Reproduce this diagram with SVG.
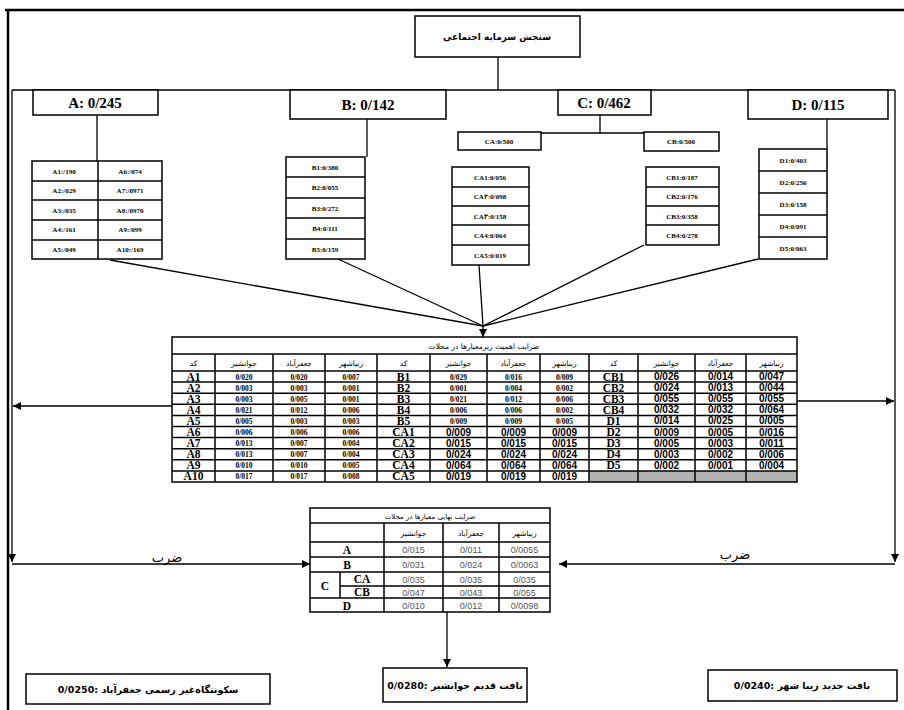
<svg xmlns="http://www.w3.org/2000/svg" width="904" height="710" viewBox="0 0 904 710">
<defs>
<marker id="ah" viewBox="0 0 10 10" refX="10" refY="5" markerWidth="8" markerHeight="8" markerUnits="userSpaceOnUse" orient="auto">
<path d="M0,0 L10,5 L0,10 z" fill="#000"/>
</marker>
<style>
.box{fill:#fff;stroke:#000;stroke-width:1.5}
.ln{stroke:#000;stroke-width:1.3;fill:none}
.tl{stroke:#000;stroke-width:1.5;fill:none}
.big{font-family:"Liberation Serif",serif;font-weight:bold;font-size:15px;text-anchor:middle;fill:#000}
.sm{font-family:"Liberation Serif",serif;font-weight:bold;font-size:7px;text-anchor:middle;fill:#000}
.fa{font-family:"DejaVu Sans",sans-serif;text-anchor:middle;fill:#000}
.code{font-family:"Liberation Serif",serif;font-weight:bold;font-size:11.5px;text-anchor:middle;fill:#000}
.v1{font-family:"Liberation Serif",serif;font-weight:bold;font-size:7.5px;text-anchor:middle;fill:#000}
.v2{font-family:"Liberation Sans",sans-serif;font-weight:bold;font-size:10px;text-anchor:middle;fill:#000}
.v3{font-family:"Liberation Sans",sans-serif;font-size:9px;text-anchor:middle;fill:#555}
</style>
</defs>
<rect width="904" height="710" fill="#fff"/>
<!-- frame -->
<line x1="5" y1="10" x2="904" y2="10" stroke="#000" stroke-width="2.5"/>
<line x1="8" y1="10" x2="8" y2="710" stroke="#000" stroke-width="2.5"/>

<g id="connectors">
<line class="ln" x1="498" y1="57" x2="498" y2="90"/>
<line class="ln" x1="12" y1="90" x2="895" y2="90"/>
<line class="ln" x1="12" y1="90" x2="12" y2="562" marker-end="url(#ah)"/>
<line class="ln" x1="895" y1="90" x2="895" y2="562" marker-end="url(#ah)" stroke="#333" stroke-width="1.8"/>
<line class="ln" x1="97" y1="115" x2="97" y2="161"/>
<line class="ln" x1="367" y1="119" x2="367" y2="157"/>
<line class="ln" x1="600" y1="115" x2="600" y2="133"/>
<line class="ln" x1="541" y1="133" x2="644" y2="133"/>
<line class="ln" x1="827" y1="119" x2="827" y2="149"/>
<line class="ln" x1="110" y1="260" x2="483" y2="326"/>
<line class="ln" x1="338" y1="259" x2="483" y2="326"/>
<line class="ln" x1="479" y1="265" x2="483" y2="326"/>
<line class="ln" x1="644" y1="245" x2="483" y2="326"/>
<line class="ln" x1="758" y1="259" x2="483" y2="326"/>
<line class="ln" x1="483" y1="326" x2="483" y2="337" marker-end="url(#ah)"/>
<line class="ln" x1="172" y1="406" x2="13" y2="406" marker-end="url(#ah)"/>
<line class="ln" x1="797" y1="401" x2="894" y2="401" marker-end="url(#ah)"/>
<line class="ln" x1="12" y1="564" x2="310" y2="564" marker-end="url(#ah)"/>
<line class="ln" x1="895" y1="564" x2="559" y2="564" marker-end="url(#ah)"/>
<line class="ln" x1="447" y1="612" x2="447" y2="667" marker-end="url(#ah)"/>
<text class="fa" x="167" y="562" font-size="13">ضرب</text>
<text class="fa" x="735" y="559" font-size="13">ضرب</text>
</g>

<g id="title">
<rect class="box" x="415" y="16" width="165" height="41"/>
<text class="fa" x="497" y="40" font-size="9" font-weight="bold">سنجش سرمایه اجتماعی</text>
</g>

<g id="A">
<rect class="box" x="33" y="90" width="125" height="25"/>
<text class="big" x="95" y="108">A: 0/245</text>
</g>
<g id="B">
<rect class="box" x="290" y="90" width="156" height="29"/>
<text class="big" x="368" y="110">B: 0/142</text>
</g>
<g id="C">
<rect class="box" x="558" y="90" width="93" height="25"/>
<text class="big" x="604" y="108">C: 0/462</text>
</g>
<g id="D">
<rect class="box" x="748" y="90" width="140" height="29"/>
<text class="big" x="818" y="110">D: 0/115</text>
</g>

<g id="A-items">
<rect class="box" x="32" y="161" width="130" height="98"/>
<line class="tl" x1="98" y1="161" x2="98" y2="259"/>
<line class="tl" x1="32" y1="181" x2="162" y2="181"/>
<line class="tl" x1="32" y1="200" x2="162" y2="200"/>
<line class="tl" x1="32" y1="220" x2="162" y2="220"/>
<line class="tl" x1="32" y1="240" x2="162" y2="240"/>
<text class="sm" x="64" y="173.5">A1:/190</text>
<text class="sm" x="64" y="193">A2:/029</text>
<text class="sm" x="64" y="212.5">A3:/035</text>
<text class="sm" x="64" y="232">A4:/161</text>
<text class="sm" x="64" y="252">A5:/049</text>
<text class="sm" x="130" y="173.5">A6:/074</text>
<text class="sm" x="130" y="193">A7:/0971</text>
<text class="sm" x="130" y="212.5">A8:/0970</text>
<text class="sm" x="130" y="232">A9:/099</text>
<text class="sm" x="130" y="252">A10:/169</text>
</g>

<g id="B-items">
<rect class="box" x="286" y="157" width="79" height="102"/>
<line class="tl" x1="286" y1="177" x2="365" y2="177"/>
<line class="tl" x1="286" y1="198" x2="365" y2="198"/>
<line class="tl" x1="286" y1="218" x2="365" y2="218"/>
<line class="tl" x1="286" y1="239" x2="365" y2="239"/>
<text class="sm" x="325" y="169.5">B1:0/380</text>
<text class="sm" x="325" y="190">B2:0/055</text>
<text class="sm" x="325" y="210.5">B3:0/272</text>
<text class="sm" x="325" y="231">B4:0/111</text>
<text class="sm" x="325" y="251.5">B5:0/159</text>
</g>

<g id="CA">
<rect class="box" x="458" y="132" width="83" height="18"/>
<text class="sm" x="499" y="143.5">CA:0/500</text>
</g>
<g id="CB">
<rect class="box" x="644" y="132" width="75" height="19"/>
<text class="sm" x="681" y="144">CB:0/500</text>
</g>

<g id="CA-items">
<rect class="box" x="452" y="167" width="77" height="98"/>
<line class="tl" x1="452" y1="187" x2="529" y2="187"/>
<line class="tl" x1="452" y1="206" x2="529" y2="206"/>
<line class="tl" x1="452" y1="225" x2="529" y2="225"/>
<line class="tl" x1="452" y1="245" x2="529" y2="245"/>
<text class="sm" x="490" y="179.5">CA1:0/056</text>
<text class="sm" x="490" y="199">CA۲:0/098</text>
<text class="sm" x="490" y="218.5">CA۳:0/158</text>
<text class="sm" x="490" y="238">CA4:0/064</text>
<text class="sm" x="490" y="257.5">CA5:0/019</text>
</g>

<g id="CB-items">
<rect class="box" x="646" y="167" width="73" height="78"/>
<line class="tl" x1="646" y1="187" x2="719" y2="187"/>
<line class="tl" x1="646" y1="206" x2="719" y2="206"/>
<line class="tl" x1="646" y1="225" x2="719" y2="225"/>
<text class="sm" x="682" y="179.5">CB1:0/187</text>
<text class="sm" x="682" y="199">CB2:0/176</text>
<text class="sm" x="682" y="218.5">CB3:0/358</text>
<text class="sm" x="682" y="238">CB4:0/278</text>
</g>

<g id="D-items">
<rect class="box" x="759" y="149" width="68" height="110"/>
<line class="tl" x1="759" y1="171" x2="827" y2="171"/>
<line class="tl" x1="759" y1="193" x2="827" y2="193"/>
<line class="tl" x1="759" y1="215" x2="827" y2="215"/>
<line class="tl" x1="759" y1="237" x2="827" y2="237"/>
<text class="sm" x="793" y="162.5">D1:0/403</text>
<text class="sm" x="793" y="184.5">D2:0/256</text>
<text class="sm" x="793" y="206.5">D3:0/158</text>
<text class="sm" x="793" y="228.5">D4:0/091</text>
<text class="sm" x="793" y="250.5">D5:0/063</text>
</g>

<g id="table-weights">
<rect x="589" y="471" width="208" height="11" fill="#b3b3b3"/>
<rect class="tl" x="172" y="337" width="625" height="145"/>
<line class="tl" x1="172" y1="354" x2="797" y2="354"/>
<line class="tl" x1="172" y1="371" x2="797" y2="371"/>
<line class="tl" x1="172" y1="382.1" x2="797" y2="382.1"/>
<line class="tl" x1="172" y1="393.2" x2="797" y2="393.2"/>
<line class="tl" x1="172" y1="404.3" x2="797" y2="404.3"/>
<line class="tl" x1="172" y1="415.4" x2="797" y2="415.4"/>
<line class="tl" x1="172" y1="426.5" x2="797" y2="426.5"/>
<line class="tl" x1="172" y1="437.6" x2="797" y2="437.6"/>
<line class="tl" x1="172" y1="448.7" x2="797" y2="448.7"/>
<line class="tl" x1="172" y1="459.8" x2="797" y2="459.8"/>
<line class="tl" x1="172" y1="470.9" x2="797" y2="470.9"/>
<line class="tl" x1="215" y1="354" x2="215" y2="482"/>
<line class="tl" x1="273" y1="354" x2="273" y2="482"/>
<line class="tl" x1="325" y1="354" x2="325" y2="482"/>
<line class="tl" x1="377" y1="354" x2="377" y2="482"/>
<line class="tl" x1="430" y1="354" x2="430" y2="482"/>
<line class="tl" x1="487" y1="354" x2="487" y2="482"/>
<line class="tl" x1="540" y1="354" x2="540" y2="482"/>
<line class="tl" x1="589" y1="354" x2="589" y2="482"/>
<line class="tl" x1="638" y1="354" x2="638" y2="482"/>
<line class="tl" x1="695" y1="354" x2="695" y2="482"/>
<line class="tl" x1="746" y1="354" x2="746" y2="482"/>
<text class="fa" x="484" y="348.5" font-size="7.5">ضرایب اهمیت زیرمعیارها در محلات</text>
<g class="fa" font-size="7.5">
<text x="193.5" y="365.5">کد</text><text x="244" y="365.5">جوانشیر</text><text x="299" y="365.5">جعفرآباد</text><text x="351" y="365.5">زیباشهر</text>
<text x="403.5" y="365.5">کد</text><text x="458.5" y="365.5">جوانشیر</text><text x="513.5" y="365.5">جعفرآباد</text><text x="564.5" y="365.5">زیباشهر</text>
<text x="613.5" y="365.5">کد</text><text x="666.5" y="365.5">جوانشیر</text><text x="720.5" y="365.5">جعفرآباد</text><text x="771.5" y="365.5">زیباشهر</text>
</g>
<g class="code">
<text x="193.5" y="380.5">A1</text><text x="193.5" y="391.6">A2</text><text x="193.5" y="402.7">A3</text><text x="193.5" y="413.8">A4</text><text x="193.5" y="424.9">A5</text>
<text x="193.5" y="436">A6</text><text x="193.5" y="447.1">A7</text><text x="193.5" y="458.2">A8</text><text x="193.5" y="469.3">A9</text><text x="193.5" y="480.4">A10</text>
<text x="403.5" y="380.5">B1</text><text x="403.5" y="391.6">B2</text><text x="403.5" y="402.7">B3</text><text x="403.5" y="413.8">B4</text><text x="403.5" y="424.9">B5</text>
<text x="403.5" y="436">CA1</text><text x="403.5" y="447.1">CA2</text><text x="403.5" y="458.2">CA3</text><text x="403.5" y="469.3">CA4</text><text x="403.5" y="480.4">CA5</text>
<text x="613.5" y="380.5">CB1</text><text x="613.5" y="391.6">CB2</text><text x="613.5" y="402.7">CB3</text><text x="613.5" y="413.8">CB4</text><text x="613.5" y="424.9">D1</text>
<text x="613.5" y="436">D2</text><text x="613.5" y="447.1">D3</text><text x="613.5" y="458.2">D4</text><text x="613.5" y="469.3">D5</text>
</g>
<g class="v1">
<text x="244" y="379.5">0/020</text><text x="299" y="379.5">0/020</text><text x="351" y="379.5">0/007</text>
<text x="244" y="390.6">0/003</text><text x="299" y="390.6">0/003</text><text x="351" y="390.6">0/001</text>
<text x="244" y="401.7">0/003</text><text x="299" y="401.7">0/005</text><text x="351" y="401.7">0/001</text>
<text x="244" y="412.8">0/021</text><text x="299" y="412.8">0/012</text><text x="351" y="412.8">0/006</text>
<text x="244" y="423.9">0/005</text><text x="299" y="423.9">0/003</text><text x="351" y="423.9">0/003</text>
<text x="244" y="435">0/006</text><text x="299" y="435">0/006</text><text x="351" y="435">0/006</text>
<text x="244" y="446.1">0/013</text><text x="299" y="446.1">0/007</text><text x="351" y="446.1">0/004</text>
<text x="244" y="457.2">0/013</text><text x="299" y="457.2">0/007</text><text x="351" y="457.2">0/004</text>
<text x="244" y="468.3">0/010</text><text x="299" y="468.3">0/010</text><text x="351" y="468.3">0/005</text>
<text x="244" y="479.4">0/017</text><text x="299" y="479.4">0/017</text><text x="351" y="479.4">0/008</text>
<text x="458.5" y="379.5">0/029</text><text x="513.5" y="379.5">0/016</text><text x="564.5" y="379.5">0/009</text>
<text x="458.5" y="390.6">0/001</text><text x="513.5" y="390.6">0/004</text><text x="564.5" y="390.6">0/002</text>
<text x="458.5" y="401.7">0/021</text><text x="513.5" y="401.7">0/012</text><text x="564.5" y="401.7">0/006</text>
<text x="458.5" y="412.8">0/006</text><text x="513.5" y="412.8">0/006</text><text x="564.5" y="412.8">0/002</text>
<text x="458.5" y="423.9">0/009</text><text x="513.5" y="423.9">0/009</text><text x="564.5" y="423.9">0/005</text>
</g>
<g class="v2">
<text x="458.5" y="435.5">0/009</text><text x="513.5" y="435.5">0/009</text><text x="564.5" y="435.5">0/009</text>
<text x="458.5" y="446.6">0/015</text><text x="513.5" y="446.6">0/015</text><text x="564.5" y="446.6">0/015</text>
<text x="458.5" y="457.7">0/024</text><text x="513.5" y="457.7">0/024</text><text x="564.5" y="457.7">0/024</text>
<text x="458.5" y="468.8">0/064</text><text x="513.5" y="468.8">0/064</text><text x="564.5" y="468.8">0/064</text>
<text x="458.5" y="479.9">0/019</text><text x="513.5" y="479.9">0/019</text><text x="564.5" y="479.9">0/019</text>
<text x="666.5" y="380">0/026</text><text x="720.5" y="380">0/014</text><text x="771.5" y="380">0/047</text>
<text x="666.5" y="391.1">0/024</text><text x="720.5" y="391.1">0/013</text><text x="771.5" y="391.1">0/044</text>
<text x="666.5" y="402.2">0/055</text><text x="720.5" y="402.2">0/055</text><text x="771.5" y="402.2">0/055</text>
<text x="666.5" y="413.3">0/032</text><text x="720.5" y="413.3">0/032</text><text x="771.5" y="413.3">0/064</text>
<text x="666.5" y="424.4">0/014</text><text x="720.5" y="424.4">0/025</text><text x="771.5" y="424.4">0/005</text>
<text x="666.5" y="435.5">0/009</text><text x="720.5" y="435.5">0/005</text><text x="771.5" y="435.5">0/016</text>
<text x="666.5" y="446.6">0/005</text><text x="720.5" y="446.6">0/003</text><text x="771.5" y="446.6">0/011</text>
<text x="666.5" y="457.7">0/003</text><text x="720.5" y="457.7">0/002</text><text x="771.5" y="457.7">0/006</text>
<text x="666.5" y="468.8">0/002</text><text x="720.5" y="468.8">0/001</text><text x="771.5" y="468.8">0/004</text>
</g>
</g>

<g id="table-final">
<rect class="tl" x="310" y="508" width="240" height="104"/>
<line class="tl" x1="310" y1="523" x2="550" y2="523"/>
<line class="tl" x1="310" y1="542" x2="550" y2="542"/>
<line class="tl" x1="310" y1="557" x2="550" y2="557"/>
<line class="tl" x1="310" y1="572" x2="550" y2="572"/>
<line class="tl" x1="340" y1="586" x2="550" y2="586"/>
<line class="tl" x1="310" y1="598" x2="550" y2="598"/>
<line class="tl" x1="340" y1="572" x2="340" y2="598"/>
<line class="tl" x1="384" y1="523" x2="384" y2="612"/>
<line class="tl" x1="443" y1="523" x2="443" y2="612"/>
<line class="tl" x1="499" y1="523" x2="499" y2="612"/>
<text class="fa" x="430" y="518.5" font-size="7">ضرایب نهایی معیارها در محلات</text>
<g class="fa" font-size="7.5">
<text x="413.5" y="535.5">جوانشیر</text><text x="471" y="535.5">جعفرآباد</text><text x="524.5" y="535.5">زیباشهر</text>
</g>
<g class="code" font-size="12.5">
<text x="347" y="554">A</text><text x="347" y="569">B</text><text x="325" y="590">C</text>
<text x="362" y="583">CA</text><text x="362" y="596">CB</text><text x="347" y="609.5">D</text>
</g>
<g class="v3">
<text x="413.5" y="553">0/015</text><text x="471" y="553">0/011</text><text x="524.5" y="553">0/0055</text>
<text x="413.5" y="568">0/031</text><text x="471" y="568">0/024</text><text x="524.5" y="568">0/0063</text>
<text x="413.5" y="582.5">0/035</text><text x="471" y="582.5">0/035</text><text x="524.5" y="582.5">0/035</text>
<text x="413.5" y="595.5">0/047</text><text x="471" y="595.5">0/043</text><text x="524.5" y="595.5">0/055</text>
<text x="413.5" y="608.5">0/010</text><text x="471" y="608.5">0/012</text><text x="524.5" y="608.5">0/0098</text>
</g>
</g>

<g id="result-1">
<rect class="box" x="26" y="674" width="244" height="30"/>
<text class="fa" x="148" y="692.5" font-size="9.5" font-weight="bold">0/0250: سکونتگاه‌غیر رسمی جعفرآباد</text>
</g>
<g id="result-2">
<rect class="box" x="383" y="668" width="144" height="34"/>
<text class="fa" x="455" y="688.5" font-size="9.5" font-weight="bold">0/0280: بافت قدیم جوانشیر</text>
</g>
<g id="result-3">
<rect class="box" x="708" y="670" width="189" height="31"/>
<text class="fa" x="802" y="689" font-size="9.5" font-weight="bold">0/0240: بافت جدید زیبا شهر</text>
</g>
</svg>
